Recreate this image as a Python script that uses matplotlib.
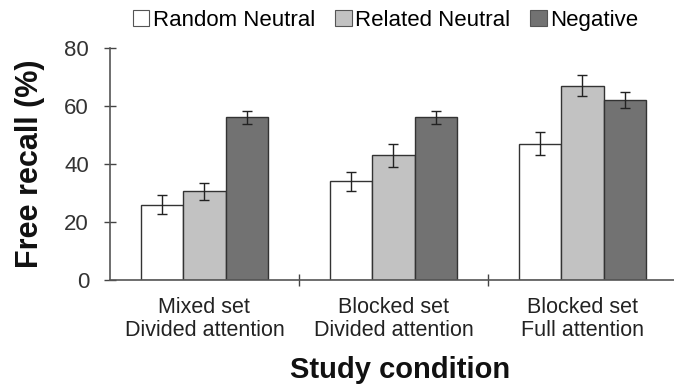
import numpy as np
import matplotlib
matplotlib.use('Agg')
import matplotlib.pyplot as plt
from matplotlib.patches import Patch

plt.rcParams['font.family'] = ['Liberation Sans', 'DejaVu Sans']

conditions = ['Mixed set\nDivided attention', 'Blocked set\nDivided attention', 'Blocked set\nFull attention']
series = ['Random Neutral', 'Related Neutral', 'Negative']
random_neutral = [26, 34, 47]
related_neutral = [30.5, 43, 67]
negative = [56, 56, 62]
random_err = [3.3, 3.2, 4.0]
related_err = [2.8, 4.0, 3.5]
negative_err = [2.3, 2.3, 2.9]

colors = ['#ffffff', '#c2c2c2', '#727272']
values = [random_neutral, related_neutral, negative]
errors = [random_err, related_err, negative_err]

fig = plt.figure(figsize=(6.74, 3.87), dpi=100)
ax = fig.add_axes([0.163, 0.2765, 0.837, 0.6])

x = np.arange(len(conditions)) + 0.5
w = 0.225
for i in range(3):
    ax.bar(x + (i - 1) * w, values[i], w, color=colors[i], edgecolor='#333333', linewidth=1.0,
           yerr=errors[i], capsize=3.5, error_kw=dict(ecolor='#222222', elinewidth=1.0, capthick=1.0))

ax.set_xlim(0, 564 / 189)
ax.set_ylim(0, 80)
ax.set_yticks([0, 20, 40, 60, 80])
ax.tick_params(axis='y', direction='inout', length=8, width=1, labelsize=16, pad=11, colors='#444444', labelcolor='#333333')
ax.set_xticks([1, 2])
ax.set_xticklabels([])
ax.set_xticks(x, minor=True)
ax.set_xticklabels(conditions, minor=True, fontsize=15.5, color='#222222', linespacing=1.15)
ax.tick_params(axis='x', which='major', direction='inout', length=8, width=1, colors='#444444')
ax.tick_params(axis='x', which='minor', length=0, pad=12)

for s in ['top', 'right']:
    ax.spines[s].set_visible(False)
for s in ['left', 'bottom']:
    ax.spines[s].set_color('#555555')
    ax.spines[s].set_linewidth(1.2)

ax.set_ylabel('Free recall (%)', fontsize=22, fontweight='bold', color='#111111')
ax.yaxis.set_label_coords(-0.115, 0.5)
fig.text(400 / 674, 1 - 370 / 387, 'Study condition', fontsize=21, fontweight='bold',
         color='#111111', ha='center', va='center')

handles = [Patch(facecolor=c, edgecolor='#555555', linewidth=0.8) for c in colors]
fig.legend(handles, series, loc='center', bbox_to_anchor=(0.572, 0.947), ncol=3, frameon=False,
           fontsize=16, handlelength=0.75, handleheight=0.75, handletextpad=0.15, columnspacing=0.9,
           borderaxespad=0)

fig.savefig('out.png', dpi=100)
